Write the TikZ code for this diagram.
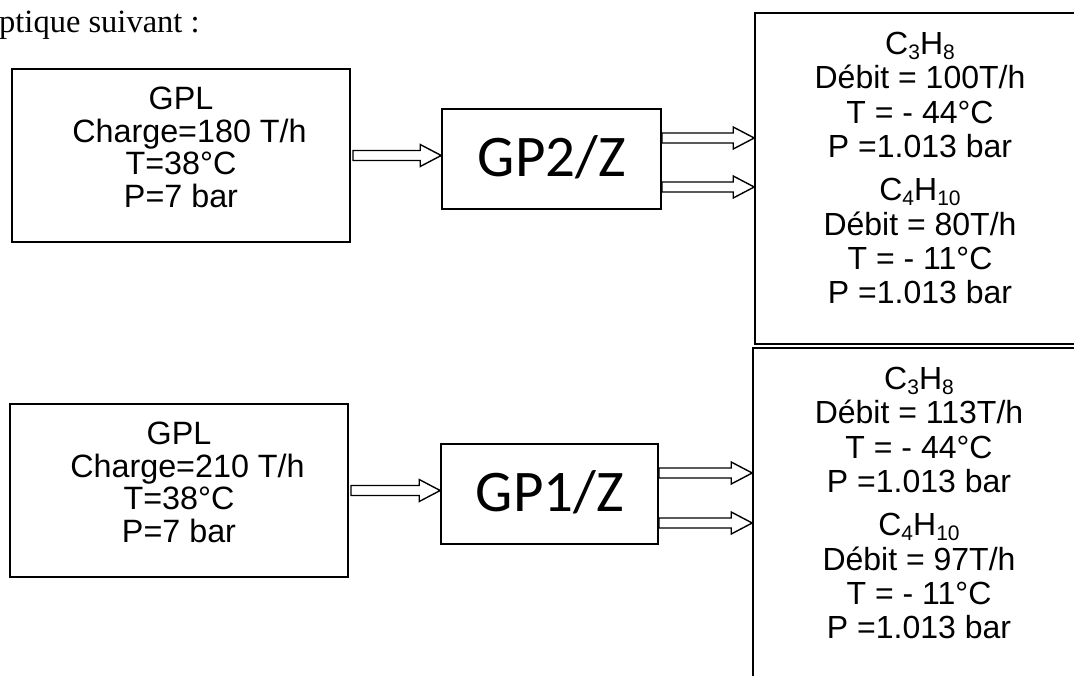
\documentclass[tikz,border=0pt]{standalone}
\usepackage{fontspec}
\setmainfont{Liberation Sans}
\newfontfamily\gpfont{Carlito}
\newfontfamily\serfont{Liberation Serif}
\usetikzlibrary{calc}
\newcommand\lowsub[1]{\raisebox{-0.16em}{\fontsize{21}{21}\selectfont #1}}
\newcommand\fatarrow[2]{%
  \draw[flow] let \p1=(#1), \p2=(#2) in
    (\x1,\y1+5pt) -- (\x2-21pt,\y1+5pt) -- (\x2-21pt,\y1+11pt) -- (\x2,\y1)
    -- (\x2-21pt,\y1-11pt) -- (\x2-21pt,\y1-5pt) -- (\x1,\y1-5pt) -- cycle;}
\begin{document}
\begin{tikzpicture}[x=1pt,y=-1pt,
  box/.style={draw, line width=1.6pt, inner sep=0pt, rectangle},
  flow/.style={line width=1.4pt, line join=miter, fill=white},
  txt/.style={font=\fontsize{32.3}{32.5}\selectfont, align=center, inner sep=0pt, anchor=north},
  outtxt/.style={font=\fontsize{32}{34.3}\selectfont, align=center, inner sep=0pt, anchor=north},
  gptxt/.style={font=\gpfont\fontsize{59}{59}\selectfont, inner sep=0pt, anchor=base}]
\clip (0,0) rectangle (1074,675);
\fill[white] (0,0) rectangle (1074,675);

% caption fragment
\node[font=\serfont\fontsize{32.5}{33}\selectfont, anchor=base west, inner sep=0pt] (cap) at (-1,32) {ptique suivant :};

% ---------- upper line ----------
\node[box, minimum width=338pt, minimum height=173pt] (gpl1) at (181,155.5) {};
\node[txt] (gpl1t) at (181,87) {GPL\\\hspace*{17pt}Charge=180 T/h\\T=38°C\\P=7 bar};
\node[box, minimum width=219pt, minimum height=100pt] (gp2) at (551.5,159) {};
\node[gptxt] (gp2t) at (552,176) {GP2/Z};
\node[box, minimum width=330pt, minimum height=331pt] (out1) at (920,178.5) {};
\node[outtxt] (out1t) at (920,32) {C\lowsub{3}H\lowsub{8}\\Débit = 100T/h\\T = - 44°C\\P =1.013 bar\\[9pt]C\lowsub{4}H\lowsub{10}\\Débit = 80T/h\\T = - 11°C\\P =1.013 bar};

\coordinate (a1s) at (353,155.5);
\coordinate (a1e) at (gp2.west |- a1s);
\coordinate (y1a) at (0,138);
\coordinate (y1b) at (0,187);
\coordinate (b1s) at (gp2.east |- y1a);
\coordinate (b1e) at (out1.west |- y1a);
\coordinate (c1s) at (gp2.east |- y1b);
\coordinate (c1e) at (out1.west |- y1b);
\fatarrow{a1s}{a1e}
\fatarrow{b1s}{b1e}
\fatarrow{c1s}{c1e}

% ---------- lower line ----------
\node[box, minimum width=338pt, minimum height=173pt] (gpl2) at (179,490.5) {};
\node[txt] (gpl2t) at (179,422) {GPL\\\hspace*{17pt}Charge=210 T/h\\T=38°C\\P=7 bar};
\node[box, minimum width=217pt, minimum height=100pt] (gp1) at (549.5,494) {};
\node[gptxt] (gp1t) at (550,511) {GP1/Z};
\node[box, minimum width=332pt, minimum height=342pt] (out2) at (919,519) {};
\node[outtxt] (out2t) at (919,367) {C\lowsub{3}H\lowsub{8}\\Débit = 113T/h\\T = - 44°C\\P =1.013 bar\\[9pt]C\lowsub{4}H\lowsub{10}\\Débit = 97T/h\\T = - 11°C\\P =1.013 bar};

\coordinate (a2s) at (351,490.5);
\coordinate (a2e) at (gp1.west |- a2s);
\coordinate (y2a) at (0,473);
\coordinate (y2b) at (0,523);
\coordinate (b2s) at (gp1.east |- y2a);
\coordinate (b2e) at (out2.west |- y2a);
\coordinate (c2s) at (gp1.east |- y2b);
\coordinate (c2e) at (out2.west |- y2b);
\fatarrow{a2s}{a2e}
\fatarrow{b2s}{b2e}
\fatarrow{c2s}{c2e}
\end{tikzpicture}
\end{document}
